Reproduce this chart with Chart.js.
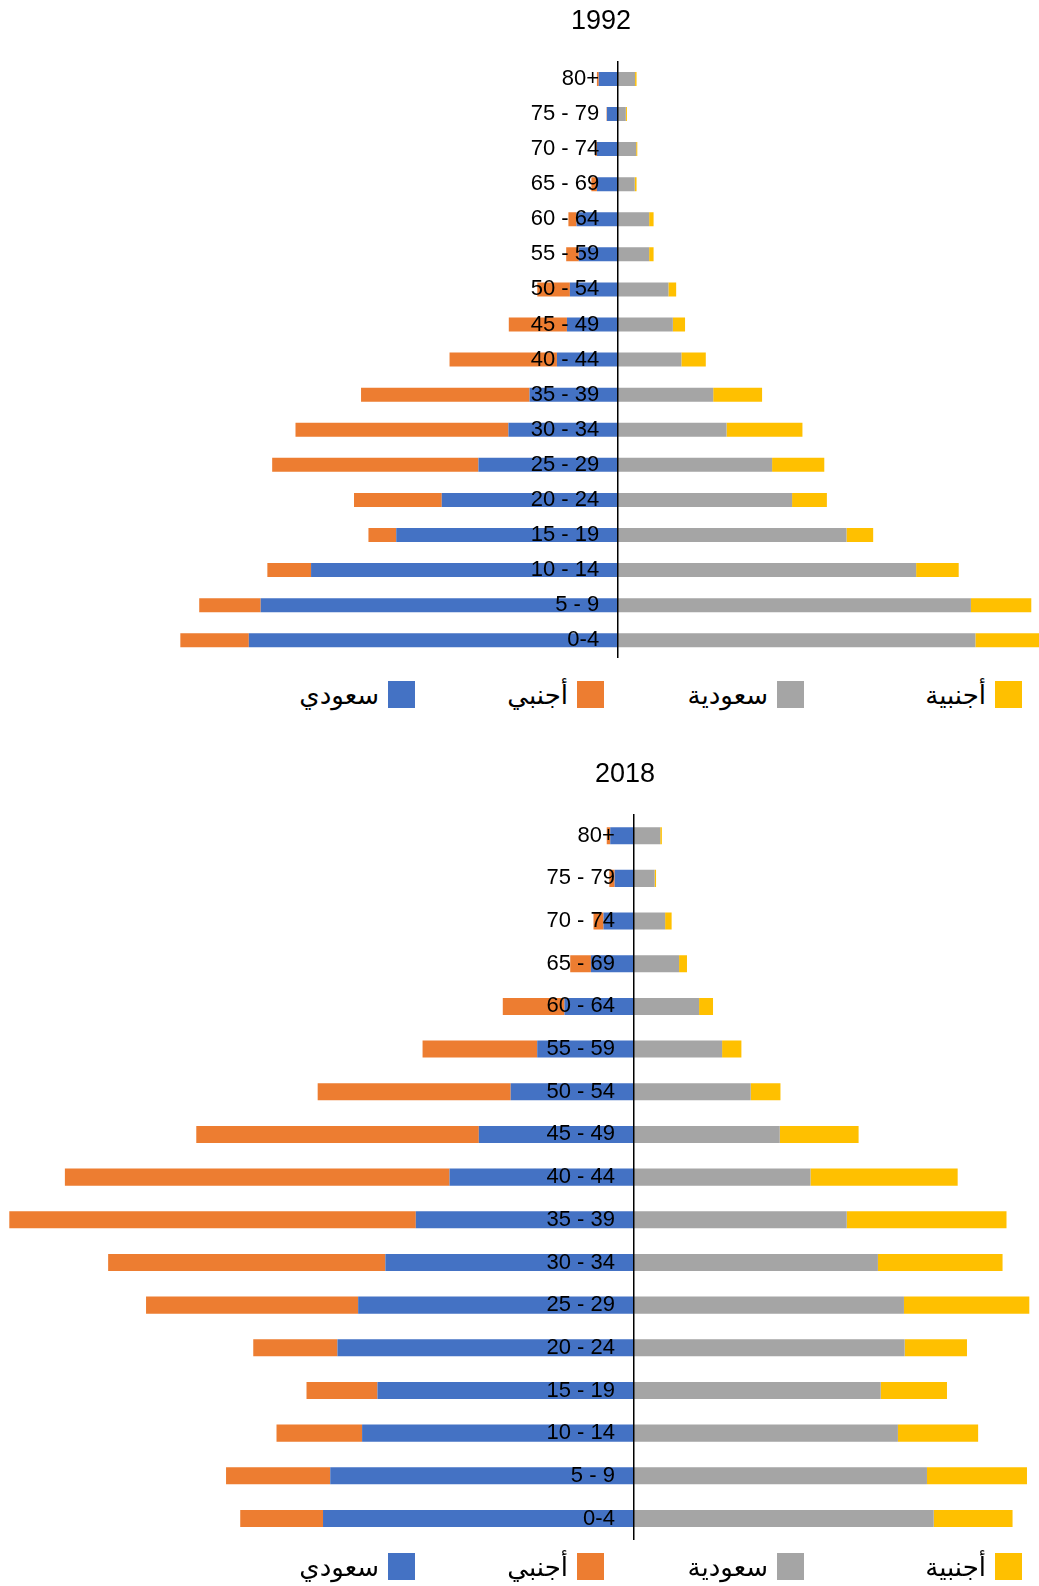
<!DOCTYPE html>
<html lang="ar">
<head>
<meta charset="utf-8">
<title>1992 / 2018</title>
<script src="https://cdn.jsdelivr.net/npm/chart.js@4.4.1/dist/chart.umd.min.js"></script>
<style>
  html, body { margin: 0; padding: 0; background: #fff; overflow: hidden; width: 1039px; height: 1586px; }
  .wrap { position: absolute; left: 0; }
  .legend { position: absolute; left: 0; width: 1039px; height: 27px; }
  .item {
    position: absolute; top: 0; height: 27px;
    display: flex; flex-direction: row-reverse; align-items: center; gap: 9px;
    font-family: "DejaVu Sans", "Noto Sans", sans-serif; font-size: 26px; color: #000;
    white-space: nowrap;
  }
  .item .box { width: 27px; height: 27px; }
</style>
</head>
<body>

<div class="wrap" style="top:0"><canvas id="c1992" width="1202" height="674"></canvas></div>
<div class="legend" id="legend1992" style="top:681px"></div>

<div class="wrap" style="top:750px"><canvas id="c2018" width="1250" height="806"></canvas></div>
<div class="legend" id="legend2018" style="top:1553px"></div>

<script>
// age groups, top to bottom
const ageGroups = ["80+", "75 - 79", "70 - 74", "65 - 69", "60 - 64", "55 - 59", "50 - 54", "45 - 49",
  "40 - 44", "35 - 39", "30 - 34", "25 - 29", "20 - 24", "15 - 19", "10 - 14", "5 - 9", "0-4"];

const seriesNames = ["سعودي", "أجنبي", "سعودية", "أجنبية"];
const seriesColors = ["#4472C4", "#ED7D31", "#A5A5A5", "#FFC000"];

// 1992 (thousands)
const saudiMale1992 = [52, 30, 57, 57, 112, 106, 130, 138, 165, 239, 296, 377, 476, 599, 829, 965, 997];
const foreignMale1992 = [5, 1, 5, 15, 22, 34, 88, 157, 290, 455, 575, 557, 237, 75, 118, 166, 185];
const saudiFemale1992 = [46, 21, 49, 45, 84, 84, 136, 148, 171, 257, 293, 416, 470, 617, 805, 953, 965];
const foreignFemale1992 = [4, 3, 3, 5, 12, 12, 21, 33, 66, 132, 205, 141, 94, 72, 115, 163, 173];

// 2018
const saudiMale2018 = [102, 83, 131, 185, 299, 416, 530, 667, 793, 938, 1069, 1186, 1275, 1103, 1169, 1306, 1337];
const foreignMale2018 = [15, 23, 43, 89, 265, 493, 830, 1215, 1654, 1748, 1192, 912, 362, 305, 368, 448, 356];
const saudiFemale2018 = [113, 89, 134, 194, 280, 379, 502, 627, 759, 915, 1049, 1161, 1164, 1061, 1135, 1260, 1289];
const foreignFemale2018 = [7, 6, 28, 34, 60, 83, 128, 339, 633, 687, 536, 539, 268, 285, 345, 430, 339];

const labelFont = "'Liberation Sans', Arial, sans-serif";

function makePyramid(canvasId, year, male, foreignMale, female, foreignFemale, xMin, xMax, labelGap, titlePad) {
  const sets = [male, foreignMale, female, foreignFemale];
  return new Chart(document.getElementById(canvasId), {
    type: "bar",
    data: {
      labels: ageGroups,
      datasets: sets.map((vals, i) => ({
        label: seriesNames[i],
        data: i < 2 ? vals.map(v => -v) : vals,
        backgroundColor: seriesColors[i],
        borderWidth: 0,
        barPercentage: 0.4,
        categoryPercentage: 1,
      })),
    },
    options: {
      indexAxis: "y",
      responsive: false,
      animation: false,
      layout: { padding: 0 },
      scales: {
        x: { type: "linear", display: false, stacked: true, min: xMin, max: xMax },
        // age labels, just left of the zero line
        y: {
          type: "category",
          stacked: true,
          position: { x: -labelGap },
          grid: { display: false, drawTicks: false },
          border: { display: false },
          ticks: {
            z: 1, color: "#000", autoSkip: false,
            font: { family: labelFont, size: 22 },
          },
        },
        // the black zero line
        zero: {
          type: "category",
          axis: "y",
          position: { x: 0 },
          grid: { display: false, drawTicks: false },
          border: { display: true, color: "#000", width: 1.5, z: 1 },
          ticks: { display: false, font: { family: labelFont, size: 22 } },
        },
      },
      plugins: {
        legend: { display: false },
        tooltip: { enabled: false },
        title: {
          display: true,
          text: year,
          color: "#000",
          font: { family: labelFont, size: 27, weight: "normal" },
          padding: titlePad,
        },
      },
    },
  });
}

function makeLegend(id) {
  const rightEdges = [624, 435, 235, 17]; // blue, orange, gray, yellow
  const el = document.getElementById(id);
  seriesNames.forEach((name, i) => {
    const item = document.createElement("div");
    item.className = "item";
    item.style.right = rightEdges[i] + "px";
    item.innerHTML = '<span class="box" style="background:' + seriesColors[i] + '"></span><span>' + name + "</span>";
    el.appendChild(item);
  });
}

makePyramid("c1992", "1992", saudiMale1992, foreignMale1992, saudiFemale1992, foreignFemale1992,
  -1669, 1577, 51, { top: 5, bottom: 24 });
makePyramid("c2018", "2018", saudiMale2018, foreignMale2018, saudiFemale2018, foreignFemale2018,
  -2726, 2649, 82, { top: 8, bottom: 24 });
makeLegend("legend1992");
makeLegend("legend2018");
</script>
</body>
</html>
